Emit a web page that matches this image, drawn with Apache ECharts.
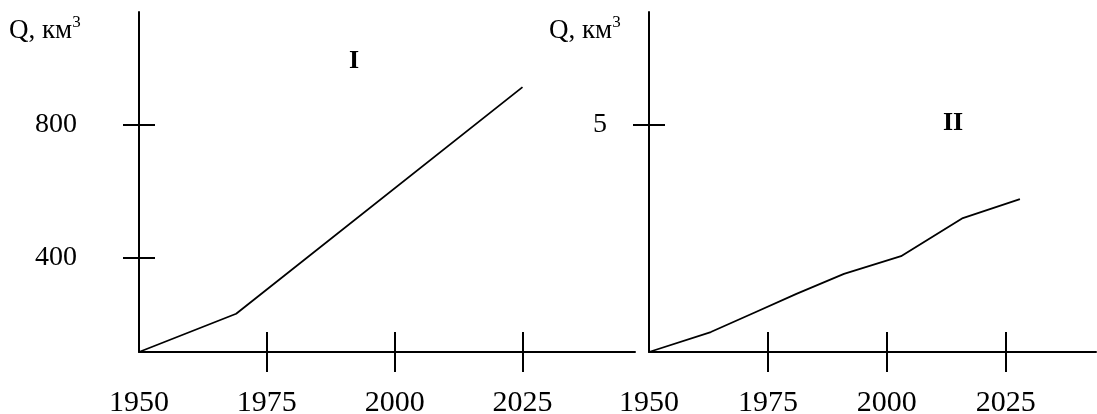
<!DOCTYPE html>
<html>
<head>
<meta charset="utf-8">
<script src="https://cdn.jsdelivr.net/npm/echarts@6/dist/echarts.min.js"></script>
<style>
html,body{margin:0;padding:0;background:#fff;}
#c{width:1097px;height:414px;}
</style>
</head>
<body>
<div id="c"></div>
<script>
// Panel I
const yearsI = [1950, 1969, 2025];
const valuesI = [117, 232, 914];
const yTicksI = [400, 800];
// Panel II
const yearsII = [1950, 1963, 1972, 1981, 1991, 2003, 2016, 2028];
const valuesII = [0, 0.44, 0.86, 1.28, 1.72, 2.11, 2.95, 3.37];
const yTicksII = [5];
// shared x tick labels
const xLabelYears = [1950, 1975, 2000, 2025];
const xTickYears = [1975, 2000, 2025];
const axisTitle = 'Q, км';
const panelNames = ['I', 'II'];

const FONT = 'Liberation Serif';
const chart = echarts.init(document.getElementById('c'), null, {renderer: 'canvas'});
const plain = v => String(v);

function xAxes(gridIndex, max) {
  const base = {
    type: 'value', gridIndex, min: 1950, max, position: 'bottom',
    splitLine: {show: false}
  };
  return [
    Object.assign({}, base, {
      axisLine: {show: true, onZero: false, lineStyle: {color: '#000', width: 2}},
      axisTick: {show: true, inside: false, length: 20, customValues: xTickYears, lineStyle: {color: '#000', width: 2}},
      axisLabel: {show: true, customValues: xLabelYears, formatter: plain, margin: 36, color: '#000', fontFamily: FONT, fontSize: 30}
    }),
    Object.assign({}, base, {
      axisLine: {show: false, onZero: false},
      axisTick: {show: true, inside: true, length: 20, customValues: xTickYears, lineStyle: {color: '#000', width: 2}},
      axisLabel: {show: false}
    })
  ];
}
function yAxes(gridIndex, min, max, ticks, margin) {
  const base = {type: 'value', gridIndex, min, max, position: 'left', splitLine: {show: false}};
  return [
    Object.assign({}, base, {
      axisLine: {show: true, onZero: false, lineStyle: {color: '#000', width: 2}},
      axisTick: {show: true, inside: false, length: 16, customValues: ticks, lineStyle: {color: '#000', width: 2}},
      axisLabel: {show: true, customValues: ticks, formatter: plain, margin, color: '#000', fontFamily: FONT, fontSize: 28, padding: [0, 0, 12, 0]}
    }),
    Object.assign({}, base, {
      axisLine: {show: false, onZero: false},
      axisTick: {show: true, inside: true, length: 16, customValues: ticks, lineStyle: {color: '#000', width: 2}},
      axisLabel: {show: false}
    })
  ];
}

function qLabel(left) {
  return {
    type: 'text', left, top: 14,
    style: {
      text: '{a|' + axisTitle + '}{s|3}',
      rich: {
        a: {fontFamily: FONT, fontSize: 27, fill: '#000', lineHeight: 30, verticalAlign: 'bottom'},
        s: {fontFamily: FONT, fontSize: 17, fill: '#000', lineHeight: 30, verticalAlign: 'top'}
      }
    }
  };
}

const option = {
  backgroundColor: '#fff',
  animation: false,
  grid: [
    {left: 139, top: 12, width: 496, height: 340, containLabel: false, outerBoundsMode: 'none'},
    {left: 649, top: 12, width: 447, height: 340, containLabel: false, outerBoundsMode: 'none'}
  ],
  xAxis: [].concat(xAxes(0, 2047), xAxes(1, 2044)),
  yAxis: [].concat(yAxes(0, 117, 1140, yTicksI, 62), yAxes(1, 0, 7.49, yTicksII, 42)),
  series: [
    {
      type: 'line', xAxisIndex: 0, yAxisIndex: 0, symbol: 'none',
      lineStyle: {color: '#000', width: 1.8},
      data: yearsI.map((y, i) => [y, valuesI[i]])
    },
    {
      type: 'line', xAxisIndex: 2, yAxisIndex: 2, symbol: 'none',
      lineStyle: {color: '#000', width: 1.8},
      data: yearsII.map((y, i) => [y, valuesII[i]])
    }
  ],
  graphic: [
    qLabel(9),
    qLabel(549),
    {type: 'text', x: 354, y: 61, style: {text: panelNames[0], fontFamily: FONT, fontWeight: 'bold', fontSize: 26, fill: '#000', align: 'center', verticalAlign: 'middle'}},
    {type: 'text', x: 953, y: 123, style: {text: panelNames[1], fontFamily: FONT, fontWeight: 'bold', fontSize: 26, fill: '#000', align: 'center', verticalAlign: 'middle'}}
  ]
};
chart.setOption(option);
</script>
</body>
</html>
